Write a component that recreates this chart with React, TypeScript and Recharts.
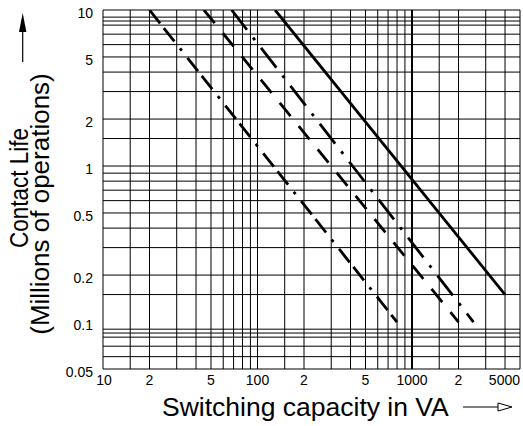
import React from "react";
import { LineChart, Line, XAxis, YAxis, ReferenceLine } from "recharts";

// Grid values (log-log paper)
const xGrid = [10, 15, 20, 30, 40, 50, 60, 70, 80, 90, 100, 150, 200, 300, 400, 500, 600, 700, 800, 900, 1000, 1500, 2000, 3000, 4000, 5000];
const yGrid = [10, 9, 8.5, 8, 7, 6, 5, 4, 3, 2, 1.5, 1, 0.9, 0.8, 0.7, 0.6, 0.5, 0.4, 0.3, 0.2, 0.15, 0.09, 0.085, 0.08, 0.07, 0.06, 0.05];

// Tick labels
const xTicks = [10, 20, 50, 100, 200, 500, 1000, 2000, 5000];
const xTickLabels = ["10", "2", "5", "100", "2", "5", "1000", "2", "5000"];
const yTicks = [0.05, 0.1, 0.2, 0.5, 1, 2, 5, 10];
const yTickLabels = ["0.05", "0.1", "0.2", "0.5", "1", "2", "5", "10"];

// Curves: switching capacity (VA) vs contact life (millions of operations)
const curveDashDotA = [
  { va: 20, life: 10 },
  { va: 800, life: 0.1 },
];
const curveDashedB = [
  { va: 45, life: 10 },
  { va: 2000, life: 0.1 },
];
const curveDashDotC = [
  { va: 68, life: 10 },
  { va: 2500, life: 0.1 },
];
const curveSolidD = [
  { va: 130, life: 10 },
  { va: 4000, life: 0.15 },
];

const FONT = "'Liberation Sans', Arial, Helvetica, sans-serif";

const XTick = (props: any) => {
  const { x, y, payload } = props;
  const i = xTicks.indexOf(payload.value);
  const label = i >= 0 ? xTickLabels[i] : String(payload.value);
  const anchor = payload.value === 5000 ? "end" : "middle";
  return (
    <text x={x + (payload.value === 10 ? 1 : 0)} y={y} dy="0.71em" textAnchor={anchor} fontSize={14} fontFamily={FONT} fill="#000">
      {label}
    </text>
  );
};

const YTick = (props: any) => {
  const { x, y, payload } = props;
  const i = yTicks.indexOf(payload.value);
  const label = i >= 0 ? yTickLabels[i] : String(payload.value);
  return (
    <text x={x} y={y + 3} dy="0.355em" textAnchor="end" fontSize={14} fontFamily={FONT} fill="#000">
      {label}
    </text>
  );
};

export default function App() {
  return (
    <div style={{ position: "fixed", left: 0, top: 0, width: 523, height: 426, background: "#fff" }}>
      <LineChart width={523} height={426} margin={{ top: 10, right: 3, left: 0, bottom: 27 }}>
        <XAxis
          type="number"
          dataKey="va"
          scale="log"
          domain={[10, 5000]}
          allowDataOverflow
          ticks={xTicks}
          interval={0}
          tick={<XTick />}
          tickLine={false}
          axisLine={false}
          tickSize={0}
          tickMargin={6}
          height={30}
        />
        <YAxis
          type="number"
          dataKey="life"
          scale="log"
          domain={[0.05, 10]}
          allowDataOverflow
          ticks={yTicks}
          interval={0}
          tick={<YTick />}
          tickLine={false}
          axisLine={false}
          tickSize={0}
          tickMargin={10}
          width={103}
        />
        {xGrid.map((v) => (
          <ReferenceLine
            key={"vx" + v}
            x={v}
            stroke="#000"
            strokeWidth={v === 1000 ? 2 : 1}
            ifOverflow="visible"
          />
        ))}
        {yGrid.map((v) => (
          <ReferenceLine key={"hy" + v} y={v} stroke="#000" strokeWidth={1} ifOverflow="visible" />
        ))}
        <Line
          data={curveDashDotA}
          dataKey="life"
          stroke="#000"
          strokeWidth={2.8}
          strokeDasharray="17 6 17 9 3 9"
          dot={false}
          isAnimationActive={false}
        />
        <Line
          data={curveDashedB}
          dataKey="life"
          stroke="#000"
          strokeWidth={2.8}
          strokeDasharray="17 13"
          dot={false}
          isAnimationActive={false}
        />
        <Line
          data={curveDashDotC}
          dataKey="life"
          stroke="#000"
          strokeWidth={2.8}
          strokeDasharray="25 10 3 10"
          dot={false}
          isAnimationActive={false}
        />
        <Line
          data={curveSolidD}
          dataKey="life"
          stroke="#000"
          strokeWidth={2.8}
          dot={false}
          isAnimationActive={false}
        />
      </LineChart>
      <svg
        width={523}
        height={426}
        style={{ position: "absolute", left: 0, top: 0, pointerEvents: "none" }}
      >
        <text x={162} y={416} fontSize={26.5} fontFamily={FONT} fill="#000">
          Switching capacity in VA
        </text>
        <line x1={463} y1={407} x2={500} y2={407} stroke="#000" strokeWidth={1.2} />
        <polygon points="498,403 512,407 498,411" fill="#fff" stroke="#000" strokeWidth={1} />
        <text
          transform="translate(28,188) rotate(-90)"
          textAnchor="middle"
          fontSize={25}
          textLength={120}
          lengthAdjust="spacingAndGlyphs"
          fontFamily={FONT}
          fill="#000"
        >
          Contact Life
        </text>
        <text
          transform="translate(49,204) rotate(-90)"
          textAnchor="middle"
          fontSize={26}
          fontFamily={FONT}
          fill="#000"
        >
          (Millions of operations)
        </text>
        <line x1={22.7} y1={62} x2={22.7} y2={28} stroke="#000" strokeWidth={1.2} />
        <polygon points="19,32 22.7,13 26.4,32" fill="#000" />
      </svg>
    </div>
  );
}
